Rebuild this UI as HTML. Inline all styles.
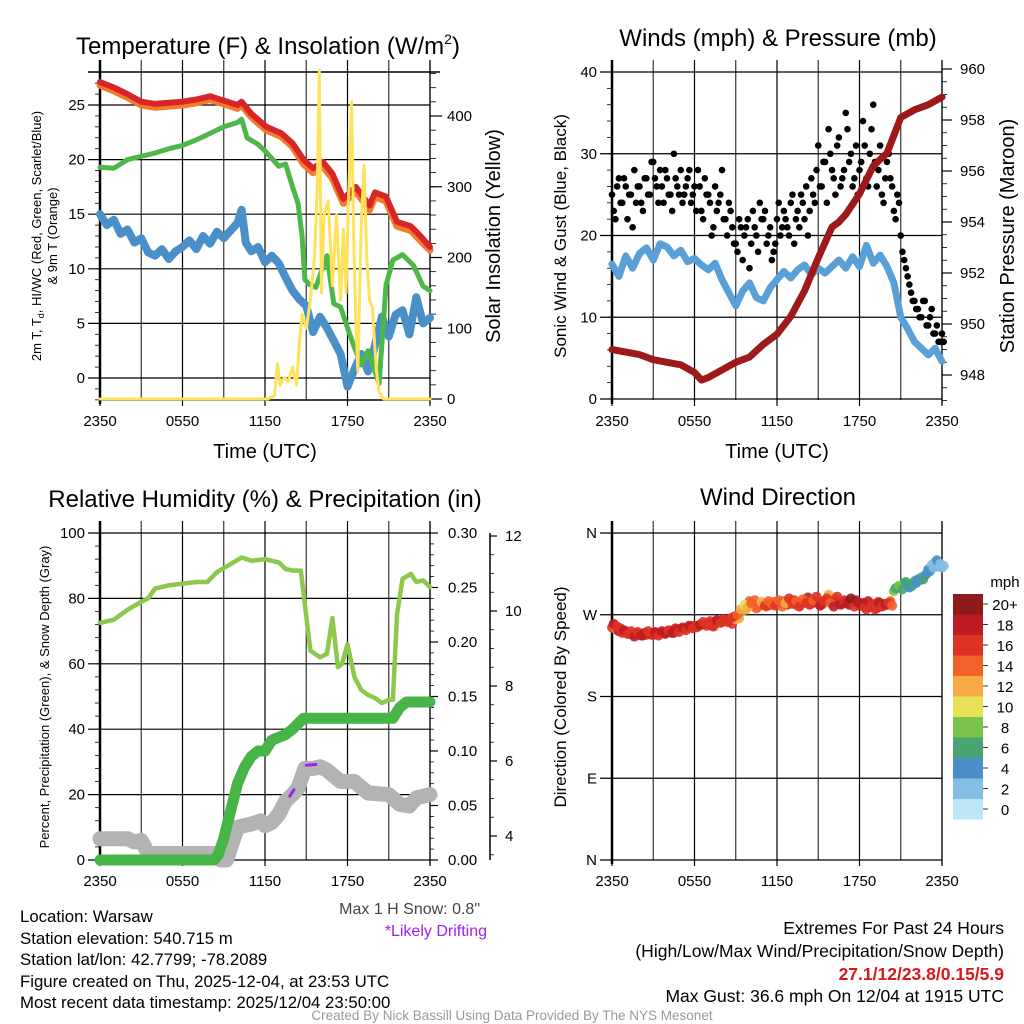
<!DOCTYPE html>
<html><head><meta charset="utf-8"><style>
html,body{margin:0;padding:0;background:#fff}
svg{display:block;font-family:"Liberation Sans",sans-serif}
</style></head><body>
<svg id="c" width="1024" height="1024" viewBox="0 0 1024 1024" xmlns="http://www.w3.org/2000/svg">
<g id="g"></g>
<text x="268" y="54" font-size="24" text-anchor="middle">Temperature (F) &amp; Insolation (W/m<tspan font-size="14" dy="-10">2</tspan><tspan dy="10">)</tspan></text>
<text x="778" y="46" font-size="24" text-anchor="middle">Winds (mph) &amp; Pressure (mb)</text>
<text x="265" y="507" font-size="24" text-anchor="middle">Relative Humidity (%) &amp; Precipitation (in)</text>
<text x="778" y="505" font-size="24" text-anchor="middle">Wind Direction</text>
<g font-size="20" text-anchor="middle">
<text x="265" y="458">Time (UTC)</text>
<text x="777" y="458">Time (UTC)</text>
<text transform="translate(500,236) rotate(-90)">Solar Insolation (Yellow)</text>
<text transform="translate(1014,236) rotate(-90)">Station Pressure (Maroon)</text>
</g>
<g font-size="17" text-anchor="middle">
<text transform="translate(566,236) rotate(-90)">Sonic Wind &amp; Gust (Blue, Black)</text>
<text transform="translate(566,697) rotate(-90)">Direction (Colored By Speed)</text>
</g>
<g font-size="13" text-anchor="middle">
<text transform="translate(41,236) rotate(-90)">2m T, T<tspan font-size="9" dy="3">d</tspan><tspan dy="-3">, HI/WC (Red, Green, Scarlet/Blue)</tspan></text>
<text transform="translate(57,236) rotate(-90)">&amp; 9m T (Orange)</text>
<text transform="translate(49,697) rotate(-90)">Percent, Precipitation (Green), &amp; Snow Depth (Gray)</text>
</g>
<text x="480" y="914" font-size="16" fill="#444" text-anchor="end">Max 1 H Snow: 0.8"</text>
<text x="487" y="936" font-size="16" fill="#a020f0" text-anchor="end">*Likely Drifting</text>
<g font-size="16.8">
<text x="20" y="922">Location: Warsaw</text>
<text x="20" y="944">Station elevation: 540.715 m</text>
<text x="20" y="965">Station lat/lon: 42.7799; -78.2089</text>
<text x="20" y="987">Figure created on Thu, 2025-12-04, at 23:53 UTC</text>
<text x="20" y="1008">Most recent data timestamp: 2025/12/04 23:50:00</text>
</g>
<g font-size="17.5" text-anchor="end">
<text x="1004" y="934">Extremes For Past 24 Hours</text>
<text x="1004" y="957">(High/Low/Max Wind/Precipitation/Snow Depth)</text>
<text x="1004" y="980" fill="#d7191c" font-weight="bold">27.1/12/23.8/0.15/5.9</text>
<text x="1004" y="1002">Max Gust: 36.6 mph On 12/04 at 1915 UTC</text>
</g>
<text x="512" y="1020" font-size="13.5" fill="#999" text-anchor="middle">Created By Nick Bassill Using Data Provided By The NYS Mesonet</text>
</svg>
<script>
// ---- data ----
const redT_h=[0,1,2,3,4,5,6,7,8,9,10,10.3,11,12.1,13.2,14,14.8,15.5,16.2,16.9,17.7,18.6,19.6,20,20.8,21.6,22.6,23.3,24];
const redT=[27.1,26.6,26,25.3,25.1,25.2,25.3,25.5,25.8,25.4,25,25.3,24.2,23.0,22.4,21.5,20,19.2,19.8,18.7,16.4,17.5,15.8,17,16.6,14.3,13.9,13,12];
const orgT=[26.8,26.3,25.7,25.0,24.8,24.9,25.0,25.2,25.5,25.1,24.7,25.0,23.9,22.7,22.1,21.2,19.6,18.8,19.4,18.3,16.0,17.1,15.4,16.6,16.2,13.9,13.5,12.6,11.7];
const grnT_h=[0,1,2,3,4,5,6,7,8,9,10,10.3,10.7,11.5,12,13,13.5,14,14.4,14.7,14.9,15.2,15.7,16.5,17,17.5,18,18.5,19,19.5,20,20.3,20.8,21.3,22,22.8,23.5,24];
const grnT=[19.3,19.2,20,20.3,20.6,21,21.3,21.8,22.4,23,23.4,23.7,22,21.4,20.8,19.4,19.6,17.5,16,13,9,8.6,8.3,11.2,6.8,6.5,4.6,2.8,1.2,2.5,0.6,-0.5,8.5,10.8,11.3,10.3,8.4,8];
const bluT_h=[0,0.5,1,1.5,2,2.5,3,3.5,4,4.5,5,5.5,6,6.5,7,7.5,8,8.5,9,9.5,10,10.3,10.6,11,11.5,12,12.5,13,13.5,14,14.5,15,15.5,16,16.5,17,17.5,18,18.5,19,19.5,20,20.5,21,21.5,22,22.5,23,23.5,24];
const bluT=[15,14,14.5,13.2,13.6,12.4,12.8,11.5,11.2,11.8,10.9,11.6,12.0,12.6,11.8,13,12.3,13.4,12.8,13.5,14.2,15.4,12.4,11.6,12,10.6,11.2,10.5,9.2,8,7.2,6.6,4.2,5.6,4.6,3.4,2.2,-0.8,0.8,2.2,0.6,3,5.6,3.8,5.8,6.2,4,7.4,5,5.5];
const sol_h=[0,12.2,12.7,12.9,13.1,13.4,13.7,14,14.3,14.5,14.7,15,15.3,15.6,15.8,15.95,16.1,16.3,16.6,16.9,17.2,17.5,17.7,17.9,18.1,18.3,18.45,18.6,18.75,19.0,19.2,19.4,19.6,19.8,20.1,20.3,20.6,21,24];
const sol=[0,0,5,50,20,30,25,45,20,80,120,100,140,200,300,465,150,260,280,160,260,140,240,150,300,420,230,110,40,250,330,200,140,130,40,10,0,0,0];
// wind panel
const hourStep=[0,0.5,1,1.5,2,2.5,3,3.5,4,4.5,5,5.5,6,6.5,7,7.5,8,8.5,9,9.5,10,10.5,11,11.5,12,12.5,13,13.5,14,14.5,15,15.5,16,16.5,17,17.5,18,18.5,19,19.5,20,20.5,21,21.5,22,22.5,23,23.5,24];
const sonic=[16.5,15,17.5,16,17.8,18.5,17,19,18.6,17.5,18.2,16.8,17.2,16.4,15.8,16.6,14.6,13,11.4,13.2,14.2,12.4,12,13.6,14.6,15.6,14.8,15.8,16.4,15.2,16,15.4,16.2,17,16,17.4,16.2,18.8,16.6,17.6,16.2,14.2,10,8.6,7,6.2,5.4,6.2,4.6];
const pres_h=[0,1,2,3,4,5,6,6.5,7,8,9,10,11,12,13,14,15,15.5,16,16.5,17,18,19,20,20.5,21,22,23,24];
const pres=[949,948.9,948.8,948.6,948.5,948.4,948.1,947.8,947.9,948.2,948.5,948.7,949.2,949.6,950.3,951.3,952.6,953.2,953.8,954.0,954.3,955.1,956.2,956.7,957.4,958.1,958.4,958.6,958.9];
const gust=[25,22,27,24,26,25,21,24,26,23,27,25,29,26,28,24,27,25,30,26,28,25,27,24,26,28,23,27,25,20,26,24,28,22,24,21,19,22,17,21,16,23,20,24,22,19,21,18,22,20,23,21,24,19,23,25,22,20,27,24,31,26,29,33,28,25,32,27,35,29,26,31,28,34,27,30,36,26,31,24,29,27,23,25,20,17,15,13,12,11,10,12,9,11,8,7,8];
const gust2=[23,26,24,27,22,25,28,26,24,27,25,29,27,24,26,28,25,23,27,25,24,26,28,25,23,26,22,25,24,21,23,25,22,20,23,19,18,21,20,22,19,21,18,22,23,20,17,19,24,21,22,20,25,22,21,24,26,23,25,28,26,29,24,30,27,31,26,28,33,30,27,25,29,31,26,33,29,28,25,27,30,26,22,24,18,16,14,12,11,10,12,9,10,8,9,7,7];
// rh panel
const rh_h=[0,1,2,3,3.5,4,5,6,7,7.8,8.5,9.5,10.3,11,12,13,13.5,14,14.6,14.9,15.3,16,16.5,16.9,17.3,17.6,18,18.5,19,19.5,20,20.5,21,21.3,21.6,22,22.6,23,23.5,24];
const rh=[72.5,73.5,76.5,79,80,83,84,84.5,85,85,88,90.5,92.5,91.5,92,91,89,88.5,88.5,78,64,62,63,74,59,60,66,56,52,50.5,49.5,48,49,49,75,86,87.5,85,85.5,83.5];
const pcp_h=[0,8.3,8.6,9,9.5,10,10.5,11,11.5,12,12.5,13.5,14,14.8,21.3,21.8,22.3,24];
const pcp=[0,0,0.005,0.02,0.045,0.07,0.085,0.095,0.1,0.1,0.11,0.115,0.12,0.13,0.13,0.14,0.145,0.145];
const snow_h=[0,2,2.5,3,3.5,8,8.3,8.8,9.2,9.6,10,11,11.7,12,12.5,13,13.5,14,14.4,14.9,15.5,16,16.5,17.5,18.5,19.5,21,21.8,22.5,23,24];
const snow=[6.5,6.5,5.5,6,2,2,2,0,0,5,10,11,12,10.5,11.5,14,18,20,22,28,28,28.5,27.5,24,24,20.5,20,17,16.5,19,20];
const drift1_h=[13.8,14.1], drift1=[19.5,21.5];
const drift2_h=[15.0,15.7], drift2=[29,29.2];
// direction panel
const dir=[256,254,252,250,251,249,248,250,249,247,248,249,248,250,249,250,251,252,250,253,254,255,256,257,258,257,259,260,261,258,262,263,262,264,262,260,265,266,274,276,285,280,277,282,283,279,281,284,282,283,285,281,284,286,280,282,285,289,282,284,283,281,286,292,284,287,283,282,285,281,284,286,280,283,276,279,282,277,283,280,281,285,296,300,302,305,303,301,307,309,311,313,320,325,328,323,322];
const spd=[17,15,18,17,16,18,17,16,19,18,17,18,19,18,17,18,19,18,17,18,17,18,19,17,16,17,16,17,16,18,17,16,17,16,15,17,12,13,8,12,14,13,14,15,13,14,16,15,12,14,15,16,14,17,15,16,12,18,16,15,16,17,18,12,19,16,18,17,20,18,17,19,18,20,17,18,15,19,17,16,18,14,8,6,8,7,6,5,6,4,5,7,4,3,3,4,3];
const dir2=[260,257,255,253,249,252,246,251,247,250,252,248,251,247,252,249,253,250,255,251,256,253,258,255,256,259,262,258,263,257,264,261,265,262,266,268,270,276,281,278,283,286,279,284,280,285,282,280,286,279,283,288,282,285,279,287,283,281,286,290,280,285,288,283,279,290,281,286,283,288,279,284,282,278,285,280,276,284,279,282,283,280,299,302,298,306,300,303,305,308,309,315,318,322,330,326,324];
const spd2=[18,16,17,19,17,16,18,17,18,19,17,16,18,17,19,18,17,19,18,17,18,17,18,16,17,18,17,16,17,16,18,17,16,17,16,16,14,12,10,13,15,14,15,13,16,14,15,16,14,15,13,16,17,15,16,14,17,16,15,17,18,16,17,14,18,17,19,16,18,20,17,18,19,17,18,16,17,18,16,18,17,15,7,8,7,6,5,6,5,4,6,4,5,3,4,3,3];
const cbLabels=['20+','18','16','14','12','10','8','6','4','2','0'];
const cbColors=['#8e1a1b','#bd1c22','#dd3224','#f16128','#f7a945','#e6e155','#7ac24a','#48a572','#4a8fc8','#84bde6','#bde6f7'];
const xTickLabels=['2350','0550','1150','1750','2350'];
const tempTicks=[0,5,10,15,20,25], solTicks=[0,100,200,300,400];
const windTicks=[0,10,20,30,40], presTicks=[948,950,952,954,956,958,960];
const rhTicks=[0,20,40,60,80,100], pcpTicks=[0,0.05,0.1,0.15,0.2,0.25,0.3], sdTicks=[4,6,8,10,12];
const dirTicks=[0,90,180,270,360], dirLabels=['N','E','S','W','N'];

// ---- scales ----
const X1=h=>100+h*13.75, X2=h=>612+h*13.75;
const YT=v=>378-v*10.92, YS=v=>399-v*0.7075;
const YW=v=>399-v*8.175, YP=p=>120+(958-p)*25.5;
const YR=v=>860-v*3.27, YPC=p=>860-p*1090, YSD=v=>836-(v-4)*37.5;
const YD=d=>860-d*0.9083;
const NS='http://www.w3.org/2000/svg', G=document.getElementById('g');
function mk(t,a,p){const e=document.createElementNS(NS,t);for(const k in a)e.setAttribute(k,a[k]);(p||G).appendChild(e);return e;}
function line(x1,y1,x2,y2,s,w){return mk('line',{x1,y1,x2,y2,stroke:s||'#000','stroke-width':w||1});}
function txt(x,y,s,anchor,size){const e=mk('text',{x,y,'font-size':size||15,'text-anchor':anchor||'middle'});e.textContent=s;return e;}
function path(hs,vs,X,Y,col,w,name){let d='';for(let i=0;i<hs.length;i++)d+=(i?'L':'M')+X(hs[i]).toFixed(1)+','+Y(vs[i]).toFixed(1);
 const e=mk('path',{d,fill:'none',stroke:col,'stroke-width':w,'stroke-linecap':'round','stroke-linejoin':'round'});
 
 
 return e;}

function frame(x0,X,top,bottom,name){
 for(let h=0;h<=24;h+=3){line(X(h),top-12,X(h),bottom,h%6?'#333':'#000',1.2);}
 for(let i=0;i<5;i++){const t=txt(X(i*6),bottom+26,xTickLabels[i],'middle',15);
  
  
  line(X(i*6),bottom,X(i*6),bottom+6,'#000',1.2);}
 line(x0,top-12,x0,bottom+4,'#000',2.5);
 line(X(24),top-12,X(24),bottom+4,'#000',1.2);
}
// Panel 1
frame(100,X1,72,400,'temp');
tempTicks.forEach(v=>{line(88,YT(v),430,YT(v),'#000',1.2);const t=txt(85,YT(v)+5,String(v),'end');});
for(let v=-2;v<=28;v++)line(95,YT(v),100,YT(v),'#000',0.8);
line(88,72,440,72,'#000',1.5);line(100,400,430,400,'#000',1.5);
solTicks.forEach(v=>{line(430,YS(v),442,YS(v),'#000',1.2);const t=txt(447,YS(v)+5,String(v),'start');});
for(let v=0;v<=460;v+=20)line(430,YS(v),436,YS(v),'#000',0.8);
path(bluT_h,bluT,X1,YT,'#4a8fc8',8,'scarlet-blue-series');
path(grnT_h,grnT,X1,YT,'#4db848',5,'dewpoint-series');
path(redT_h,orgT,X1,YT,'#f47b2a',7,'9m-temp-series');
path(redT_h,redT,X1,YT,'#d7262a',6,'2m-temp-series');
path(sol_h,sol,X1,YS,'#fde25a',3,'solar-series');
// Panel 2
frame(612,X2,72,400,'wind');
windTicks.forEach(v=>{line(600,YW(v),942,YW(v),'#000',1.2);const t=txt(597,YW(v)+5,String(v),'end');});
for(let v=0;v<=40;v+=2)line(607,YW(v),612,YW(v),'#000',0.8);
presTicks.forEach(v=>{line(942,YP(v),952,YP(v),'#000',1.2);const t=txt(960,YP(v)+5,String(v),'start');});
for(let v=947;v<=960;v+=0.5)line(942,YP(v),947,YP(v),'#000',0.8);
path(hourStep,sonic,X2,YW,'#5aa0d6',7,'sonic-wind-series');
gust.forEach((v,i)=>{const c=mk('circle',{cx:X2(i*0.25),cy:YW(v),r:3.3,fill:'#000'});
 
 });
gust2.forEach((v,i)=>{const c=mk('circle',{cx:X2(i*0.25+0.125),cy:YW(v),r:3.3,fill:'#000'});
 
 });
path(pres_h,pres,X2,YP,'#9e1a1a',7,'pressure-series');
// Panel 3
frame(100,X1,533,860,'rh');
rhTicks.forEach(v=>{line(88,YR(v),430,YR(v),'#000',1.2);const t=txt(85,YR(v)+5,String(v),'end');});
for(let v=0;v<=100;v+=4)line(95,YR(v),100,YR(v),'#000',0.8);
pcpTicks.forEach(v=>{line(430,YPC(v),438,YPC(v),'#000',1.2);const t=txt(448,YPC(v)+5,v.toFixed(2),'start');});
for(let v=0;v<=0.3;v+=0.01)line(430,YPC(v),434,YPC(v),'#000',0.8);
line(490,533,490,860,'#000',1.5);
sdTicks.forEach(v=>{line(490,YSD(v),497,YSD(v),'#000',1.2);const t=txt(505,YSD(v)+5,String(v),'start');});
for(let v=3.5;v<=12;v+=0.5)line(490,YSD(v),494,YSD(v),'#000',0.8);
path(snow_h,snow,X1,YR,'#b3b3b3',15,'snow-depth-series');
path(pcp_h,pcp,X1,YPC,'#46b446',11,'precip-series');
path(rh_h,rh,X1,YR,'#8cc84b',4.5,'rh-series');
path(drift1_h,drift1,X1,YR,'#a020f0',3,'drifting-marker');
path(drift2_h,drift2,X1,YR,'#a020f0',3,'drifting-marker');
// Panel 4
frame(612,X2,533,860,'dir');
dirTicks.forEach((v,i)=>{line(600,YD(v),942,YD(v),'#000',1.2);const t=txt(597,YD(v)+5,dirLabels[i],'end');});
function binOf(s){return s>=20?0:Math.min(10,10-Math.floor(s/2));}
dir.forEach((d,i)=>{const c=mk('circle',{cx:X2(i*0.25),cy:YD(d),r:5,fill:cbColors[binOf(spd[i])],'fill-opacity':0.9});
 
 });
dir2.forEach((d,i)=>{const c=mk('circle',{cx:X2(i*0.25+0.125),cy:YD(d),r:5,fill:cbColors[binOf(spd2[i])],'fill-opacity':0.9});
 
 });
// colorbar
const cb=txt(1005,587,'mph','middle',15);
cbColors.forEach((col,i)=>{const r=mk('rect',{x:953,y:594+i*20.5,width:30,height:20.6,fill:col});
 
 
 line(983,594+i*20.5+10,988,594+i*20.5+10,'#000',0.8);
 const t=txt(1005,594+i*20.5+16,cbLabels[i],'middle',15);
 
 });
</script>
</body></html>
